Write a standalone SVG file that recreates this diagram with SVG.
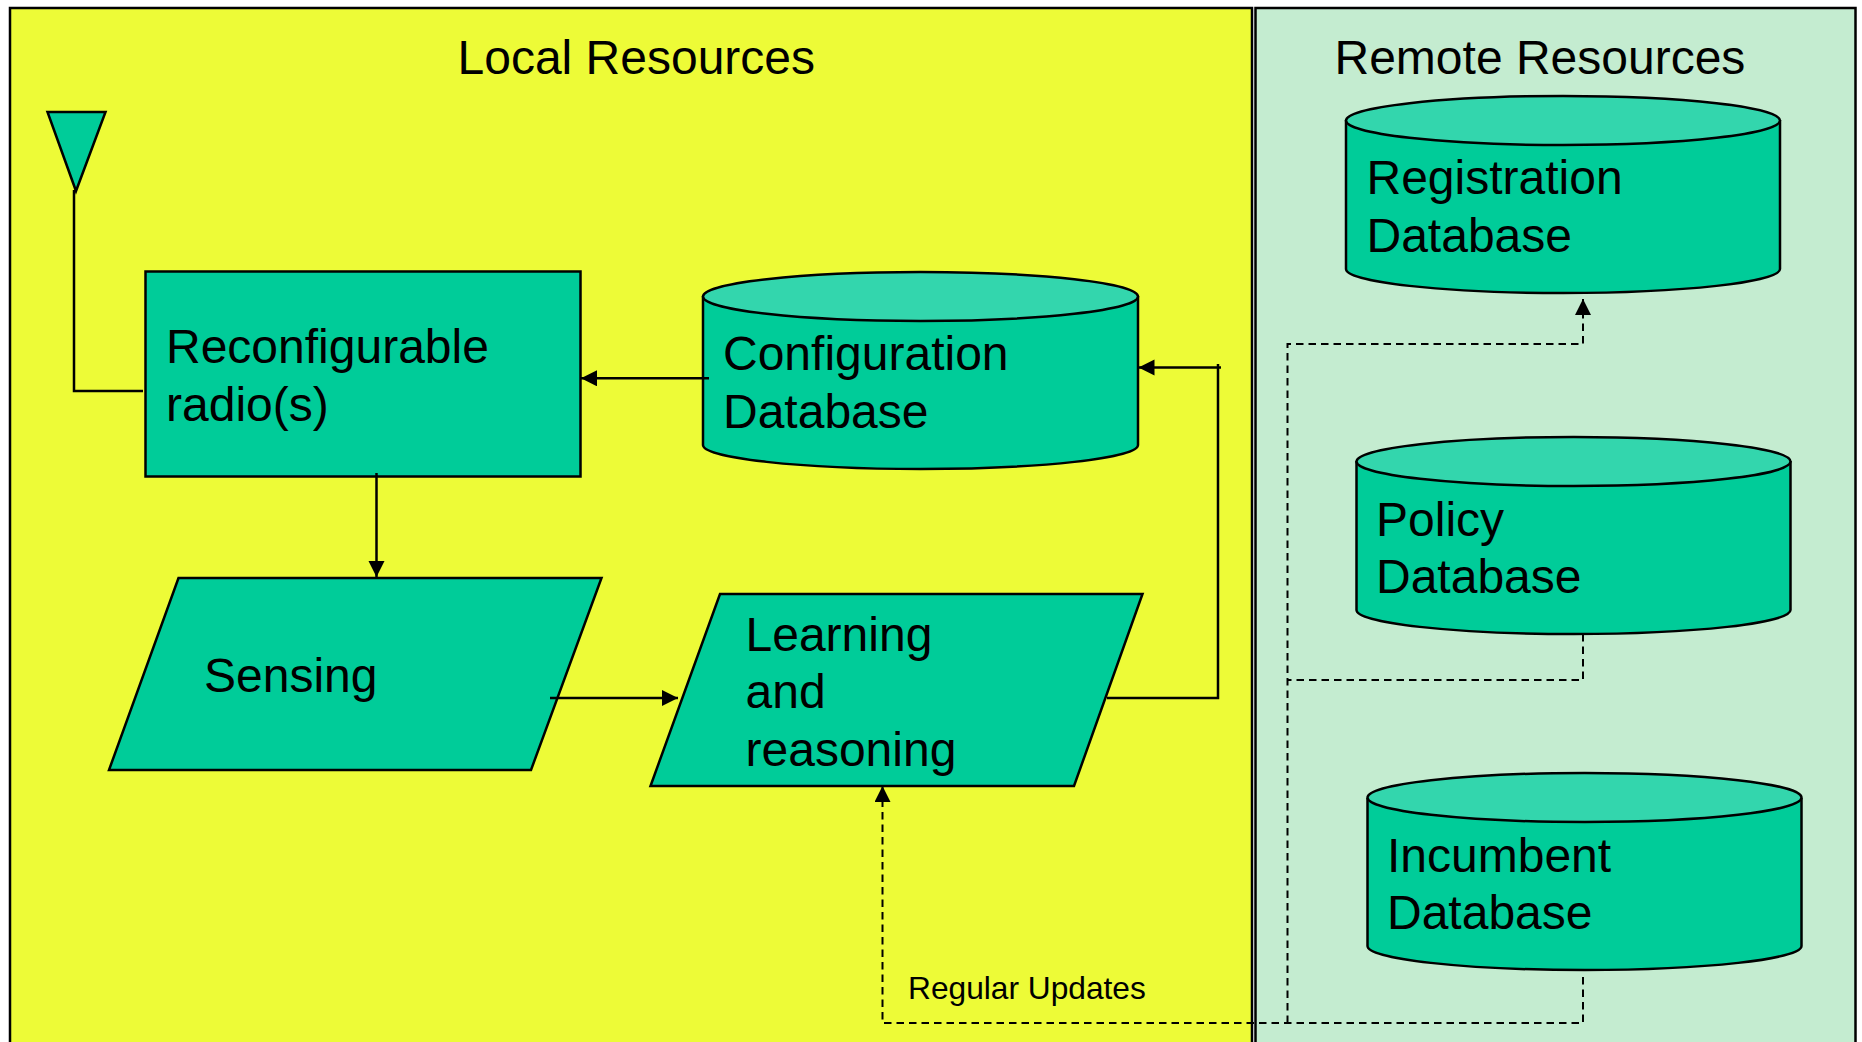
<svg xmlns="http://www.w3.org/2000/svg" width="1862" height="1042" viewBox="0 0 1862 1042">
<style>
.s{stroke:#000;stroke-width:2.5;fill:#00CC99}
.top{stroke:#000;stroke-width:2.5;fill:#33D6AD}
.panel{stroke:#000;stroke-width:2.5}
text{font-family:"Liberation Sans",Arial,sans-serif;fill:#000}
.t{font-size:48px}
.small{font-size:31.7px}
.c{fill:none;stroke:#000;stroke-width:2.5}
.d{fill:none;stroke:#000;stroke-width:2;stroke-dasharray:7.500 5}
</style>
<defs>
<marker id="a" markerUnits="userSpaceOnUse" markerWidth="17" markerHeight="17" refX="16" refY="8" orient="auto"><path d="M0 0L16 8L0 16Z" fill="#000"/></marker>
</defs>
<rect width="1862" height="1042" fill="#fff"/>
<g id="local-panel"><rect class="panel" x="10" y="8" width="1242" height="1040" fill="#EDFB37"/><text class="t" x="457.500" y="74">Local Resources</text></g>
<g id="remote-panel"><rect class="panel" x="1255.500" y="8" width="600" height="1040" fill="#C4ECD0"/><text class="t" x="1334.500" y="74">Remote Resources</text></g>
<g id="antenna"><polygon class="s" points="47.500,112 105.500,112 76,191"/></g>
<g id="radio"><rect class="s" x="145.500" y="271.500" width="435" height="205"/><text class="t" x="166" y="363">Reconfigurable</text><text class="t" x="166" y="421">radio(s)</text></g>
<g id="config-db"><path class="s" d="M703 296V445C703 458 800 469 920.500 469S1138 458 1138 445V296"/><ellipse class="top" cx="920.500" cy="296.500" rx="217.500" ry="24.500"/><text class="t" x="723" y="370">Configuration</text><text class="t" x="723" y="428">Database</text></g>
<g id="sensing"><polygon class="s" points="178.500,578 601.500,578 531,770 109,770"/><text class="t" x="204" y="692">Sensing</text></g>
<g id="learning"><polygon class="s" points="720,594 1142.500,594 1074,786 650.500,786"/><text class="t" x="745.500" y="651">Learning</text><text class="t" x="745.500" y="708">and</text><text class="t" x="745.500" y="766">reasoning</text></g>
<g id="registration-db"><path class="s" d="M1346 120V269C1346 282 1443 293 1563 293S1780 282 1780 269V120"/><ellipse class="top" cx="1563" cy="120.500" rx="217" ry="24.500"/><text class="t" x="1366.500" y="194">Registration</text><text class="t" x="1366.500" y="252">Database</text></g>
<g id="policy-db"><path class="s" d="M1356.500 461V610C1356.500 623 1453 634 1573.500 634S1790.500 623 1790.500 610V461"/><ellipse class="top" cx="1573.500" cy="461.500" rx="217" ry="24.500"/><text class="t" x="1376" y="535.500">Policy</text><text class="t" x="1376" y="593">Database</text></g>
<g id="incumbent-db"><path class="s" d="M1367.500 798V946C1367.500 959 1464 970 1584.500 970S1801.500 959 1801.500 946V798"/><ellipse class="top" cx="1584.500" cy="797.500" rx="217" ry="24.500"/><text class="t" x="1387" y="872">Incumbent</text><text class="t" x="1387" y="929">Database</text></g>
<g id="label-updates"><text class="small" x="908" y="999">Regular Updates</text></g>
<g id="connectors">
<path class="c" d="M74 190V391H143"/>
<path class="c" marker-end="url(#a)" d="M376.500 473V577"/>
<path class="c" marker-end="url(#a)" d="M709 378.300H581"/>
<path class="c" marker-end="url(#a)" d="M550 698H678"/>
<path class="c" d="M1107 698H1218V364"/>
<path class="c" marker-end="url(#a)" d="M1221 367.500H1138.500"/>
<path class="d" marker-end="url(#a)" d="M1583 977V1023H882.500V786"/>
<path class="d" d="M1583 634V680H1287.500"/>
<path class="d" marker-end="url(#a)" d="M1287.500 1023V344H1583V299"/>
</g>
</svg>
